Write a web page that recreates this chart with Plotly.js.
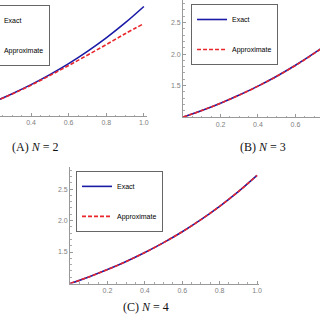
<!DOCTYPE html>
<html><head><meta charset="utf-8">
<script src="https://cdn.plot.ly/plotly-3.0.1.min.js"></script>
<style>html,body{margin:0;padding:0;background:#fff}#c{width:320px;height:320px}</style>
</head><body><div id="c"></div>
<script>
const xs = [0,0.1,0.2,0.3,0.4,0.5,0.6,0.7,0.8,0.9,1.0];
const exact = [1,1.105,1.221,1.350,1.492,1.649,1.822,2.014,2.226,2.460,2.718];
const approxN2 = [1,1.104,1.219,1.345,1.483,1.635,1.792,1.955,2.120,2.290,2.450];
const approxN3 = [1,1.105,1.221,1.349,1.491,1.647,1.819,2.010,2.221,2.453,2.708];
const approxN4 = [1,1.105,1.221,1.350,1.492,1.649,1.822,2.014,2.226,2.459,2.717];
const seriesNames = ["Exact","Approximate"];
const captions = ["(A) <i>N</i> = 2","(B) <i>N</i> = 3","(C) <i>N</i> = 4"];
const xTicks = [0.2,0.4,0.6,0.8,1.0];
const yTicks = [1.5,2.0,2.5];

const blue = '#1a1aa6', red = '#e8262b';
function pair(approx, xa, ya, lg){
  return [
    {x:xs,y:exact,xaxis:xa,yaxis:ya,mode:'lines',name:seriesNames[0],legend:lg,legendgroup:lg+'e',
     line:{color:blue,width:1.6,shape:'spline'}},
    {x:xs,y:approx,xaxis:xa,yaxis:ya,mode:'lines',name:seriesNames[1],legend:lg,legendgroup:lg+'a',
     line:{color:red,width:1.6,dash:'4px,2px',shape:'spline'}}
  ];
}
const data = [].concat(pair(approxN2,'x','y','legend'), pair(approxN3,'x2','y2','legend2'), pair(approxN4,'x3','y3','legend3'));

const tf = {family:'Liberation Sans, Arial, sans-serif', size:7, color:'#808080'};
function xax(domain, range, anchor){
  return {domain:domain, range:range, anchor:anchor, tickmode:'array', tickvals:xTicks, tickformat:'.1f',
    ticks:'inside', ticklen:3, tickcolor:'#999', showline:true, linecolor:'#999', linewidth:1,
    showgrid:false, zeroline:false, tickfont:tf,
    minor:{tickmode:'linear', tick0:0, dtick:0.05, ticks:'inside', ticklen:1.5, tickcolor:'#aaa', showgrid:false}};
}
function yax(domain, range, anchor, show){
  return {domain:domain, range:range, anchor:anchor, tickmode:'array', tickvals:yTicks, tickformat:'.1f',
    ticks: show?'inside':'', ticklen:3, tickcolor:'#999', showline:show, linecolor:'#999', linewidth:1,
    showgrid:false, zeroline:false, tickfont:tf, showticklabels:show,
    minor: show?{tickmode:'linear', tick0:1, dtick:0.1, ticks:'inside', ticklen:1.5, tickcolor:'#aaa', showgrid:false}:{}};
}
function leg(x,y){
  return {x:x, y:y, xanchor:'left', yanchor:'top', bgcolor:'#fff', bordercolor:'#666', borderwidth:1,
    font:{family:'Liberation Sans, Arial, sans-serif', size:7, color:'#000'}, traceorder:'grouped', tracegroupgap:11};
}
const capFont = {family:'Liberation Serif, serif', size:12, color:'#111'};
const layout = {
  width:320, height:320, margin:{l:0,r:0,t:0,b:0,autoexpand:false},
  paper_bgcolor:'#fff', plot_bgcolor:'#fff', showlegend:true,
  xaxis: xax([0,0.459],[0.235,1.016],'y'),
  yaxis: yax([0.6375,1],[1,2.82],'x',false),
  xaxis2: xax([0.572,1],[0,0.731],'y2'),
  yaxis2: yax([0.634,1],[1,2.857],'x2',true),
  xaxis3: xax([0.219,0.809],[0,1.01],'y3'),
  yaxis3: yax([0.114,0.478],[1,2.85],'x3',true),
  legend: leg(-0.116,0.984),
  legend2: leg(0.597,0.9875),
  legend3: leg(0.2375,0.466),
  annotations: [
    {text:captions[0], x:0.1094, y:0.5406, xref:'paper', yref:'paper', xanchor:'center', yanchor:'middle', showarrow:false, font:capFont},
    {text:captions[1], x:0.822, y:0.5406, xref:'paper', yref:'paper', xanchor:'center', yanchor:'middle', showarrow:false, font:capFont},
    {text:captions[2], x:0.456, y:0.0406, xref:'paper', yref:'paper', xanchor:'center', yanchor:'middle', showarrow:false, font:capFont}
  ]
};
Plotly.newPlot('c', data, layout, {staticPlot:true, displayModeBar:false});
</script></body></html>
